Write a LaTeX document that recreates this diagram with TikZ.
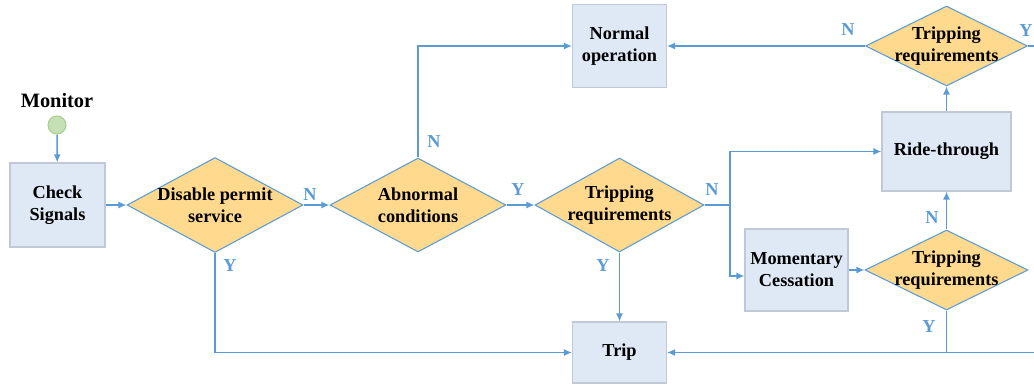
\documentclass[tikz,border=0pt]{standalone}
\usepackage{fontspec}
\setmainfont{Liberation Serif}
\usetikzlibrary{shapes.geometric, arrows.meta}

\definecolor{linkblue}{RGB}{91,155,213}
\definecolor{boxfill}{RGB}{222,233,245}
\definecolor{boxline}{RGB}{192,201,213}
\definecolor{decfill}{RGB}{255,217,142}
\definecolor{monfill}{RGB}{197,224,180}
\definecolor{monline}{RGB}{169,208,142}

\begin{document}
\begin{tikzpicture}[x=0.02cm, y=-0.02cm,
    font=\fontsize{10.4}{12.5}\selectfont\bfseries,
    process node/.style={rectangle, draw=boxline, fill=boxfill, line width=0.6pt, align=center, inner sep=0pt},
    decision node/.style={diamond, draw=linkblue, fill=decfill, line width=0.6pt, inner sep=0pt},
    dtext/.style={align=center},
    yn/.style={text=linkblue, inner sep=0pt},
    link/.style={draw=linkblue, line width=0.8pt},
    arrow/.style={link, -{Latex[length=0.16cm, width=0.14cm]}}]
    \useasboundingbox (0,0) rectangle (1034,385);
    \clip (0,0) rectangle (1034,385);

    \node (monitorlabel) at (57,101) {\fontsize{11.6}{13}\selectfont Monitor};
    \node[circle, draw=monline, fill=monfill, line width=0.6pt, minimum size=0.36cm, inner sep=0pt] (monitor) at (57,125) {};

    \node[process node, minimum width=1.9cm, minimum height=1.68cm] (checksignals) at (57.5,205) {Check\\Signals};
    \node[process node, minimum width=1.88cm, minimum height=1.66cm] (normalop) at (619.5,46) {Normal\\operation};
    \node[process node, minimum width=1.88cm, minimum height=1.22cm] (trip) at (619.5,352.5) {Trip};
    \node[process node, minimum width=2.58cm, minimum height=1.58cm] (ridethrough) at (946.5,151.5) {Ride-through};
    \node[process node, minimum width=2.06cm, minimum height=1.64cm] (momentary) at (796.5,270) {Momentary\\Cessation};

    \node[decision node, minimum width=3.52cm, minimum height=1.9cm, label={[dtext]center:{Disable permit\\service}}] (disable) at (215,205) {};
    \node[decision node, minimum width=3.52cm, minimum height=1.88cm, label={[dtext]center:{Abnormal\\conditions}}] (abnormal) at (418,205) {};
    \node[decision node, minimum width=3.38cm, minimum height=1.88cm, label={[dtext]center:{Tripping\\requirements}}] (tripreqa) at (619.5,205) {};
    \node[decision node, minimum width=3.24cm, minimum height=1.6cm, label={[dtext]center:{Tripping\\requirements}}] (tripreqb) at (946.5,46) {};
    \node[decision node, minimum width=3.26cm, minimum height=1.6cm, label={[dtext]center:{Tripping\\requirements}}] (tripreqc) at (946.5,270) {};

    \coordinate (split) at (730,205);
    \coordinate (topexit) at (1040,46);
    \coordinate (loopback) at (1040,352.5);

    \draw[arrow] (monitor) -- (checksignals);
    \draw[arrow] (checksignals) -- (disable);
    \draw[arrow] (disable) -- (abnormal);
    \draw[arrow] (abnormal) -- (tripreqa);
    \draw[arrow] (abnormal.north) |- (normalop.west);
    \draw[arrow] (disable.south) |- (trip.west);
    \draw[arrow] (tripreqa.south) -- (trip.north);
    \draw[link] (tripreqa.east) -- (split);
    \draw[arrow] (split) |- (ridethrough.west);
    \draw[arrow] (split) |- ([yshift=-0.12cm]momentary.west);
    \draw[arrow] (momentary) -- (tripreqc);
    \draw[arrow] (tripreqc.north) -- (ridethrough.south);
    \draw[arrow] (ridethrough.north) -- (tripreqb.south);
    \draw[arrow] (tripreqb.west) -- (normalop.east);
    \draw[link] (tripreqb.east) -- (topexit);
    \draw[arrow] (loopback) -- (trip.east);
    \draw[link] (tripreqc.south) -- (tripreqc.south |- trip.east);

    \node[yn] (n1) at (310,195) {N};
    \node[yn] (y1) at (230,266) {Y};
    \node[yn] (n2) at (434,142) {N};
    \node[yn] (y2) at (518,190) {Y};
    \node[yn] (n3) at (712,190) {N};
    \node[yn] (y3) at (603,266) {Y};
    \node[yn] (n4) at (848,30) {N};
    \node[yn] (y4) at (1026,31) {Y};
    \node[yn] (n5) at (932,218) {N};
    \node[yn] (y5) at (929,327) {Y};
\end{tikzpicture}
\end{document}
